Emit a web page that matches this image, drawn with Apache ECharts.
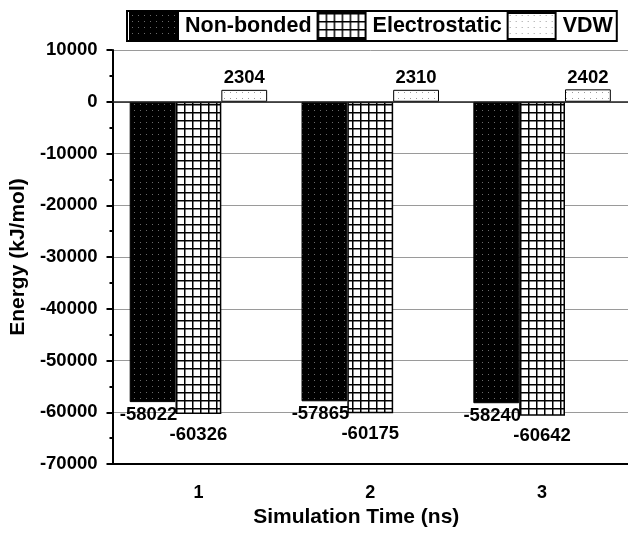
<!DOCTYPE html>
<html>
<head>
<meta charset="utf-8">
<script src="https://cdn.jsdelivr.net/npm/echarts@6/dist/echarts.min.js"></script>
<style>
html,body{margin:0;padding:0;background:#fff;}
#chart{width:628px;height:533px;}
</style>
</head>
<body>
<div id="chart"></div>
<script>
var categories = ['1', '2', '3'];
var nonBonded = [-58022, -57865, -58240];
var electrostatic = [-60326, -60175, -60642];
var vdw = [2304, 2310, 2402];
var seriesNames = ['Non-bonded', 'Electrostatic', 'VDW'];
var yTicks = { min: -70000, max: 10000, interval: 10000 };

var FONT = '"Liberation Sans", Arial, sans-serif';

function makePattern(kind) {
  var c = document.createElement('canvas');
  var ctx = c.getContext('2d');
  if (kind === 'dark') {
    c.width = 6; c.height = 6;
    ctx.fillStyle = '#000'; ctx.fillRect(0, 0, 6, 6);
    ctx.fillStyle = '#6a6a6a'; ctx.fillRect(2, 2, 1, 1);
  } else if (kind === 'grid') {
    c.width = 8; c.height = 8;
    ctx.fillStyle = '#fff'; ctx.fillRect(0, 0, 8, 8);
    ctx.fillStyle = '#000';
    ctx.fillRect(0, 0, 8, 1.5);
    ctx.fillRect(0, 0, 1.5, 8);
  } else {
    c.width = 6; c.height = 6;
    ctx.fillStyle = '#fff'; ctx.fillRect(0, 0, 6, 6);
    ctx.fillStyle = '#9a9a9a'; ctx.fillRect(2, 2, 1, 1);
  }
  return { image: c, repeat: 'repeat' };
}

var chart = echarts.init(document.getElementById('chart'), null, { renderer: 'canvas' });

var labelBase = { show: true, fontFamily: FONT, fontWeight: 'bold', fontSize: 18.5, color: '#000' };

var option = {
  animation: false,
  backgroundColor: '#fff',
  legend: {
    left: 127, top: 11,
    padding: [1, 4, 1, 2],
    borderColor: '#000', borderWidth: 2,
    itemWidth: 48, itemHeight: 26, itemGap: 5,
    icon: 'rect',
    textStyle: { fontFamily: FONT, fontWeight: 'bold', fontSize: 21.5, color: '#000', padding: [0, 0, 0, 2] },
    data: seriesNames
  },
  grid: { left: 112, top: 50, width: 524, height: 421, containLabel: false },
  xAxis: {
    type: 'category',
    data: categories,
    name: 'Simulation Time (ns)',
    nameLocation: 'middle',
    nameGap: 35,
    nameTextStyle: { fontFamily: FONT, fontWeight: 'bold', fontSize: 21, color: '#000', padding: [0, 28, 0, 0] },
    axisLine: { onZero: false, lineStyle: { color: '#000', width: 2 } },
    axisTick: { alignWithLabel: true, length: 6, lineStyle: { color: '#000', width: 2 } },
    axisLabel: { fontFamily: FONT, fontWeight: 'bold', fontSize: 18, color: '#000', margin: 20 },
    splitLine: { show: false }
  },
  yAxis: {
    type: 'value',
    min: yTicks.min, max: yTicks.max, interval: yTicks.interval,
    name: 'Energy (kJ/mol)',
    nameLocation: 'middle',
    nameGap: 76,
    nameTextStyle: { fontFamily: FONT, fontWeight: 'bold', fontSize: 21, color: '#000' },
    axisLine: { show: true, lineStyle: { color: '#000', width: 2 } },
    axisTick: { show: true, length: 6, lineStyle: { color: '#000', width: 2 } },
    minorTick: { show: true, splitNumber: 2, length: 3, lineStyle: { color: '#000', width: 2 } },
    axisLabel: { fontFamily: FONT, fontWeight: 'bold', fontSize: 18.5, color: '#000', margin: 15,
      formatter: function (v) { return String(v); } },
    splitLine: { show: true, lineStyle: { color: '#9a9a9a', width: 1 } }
  },
  series: [
    {
      name: seriesNames[0], type: 'bar', data: nonBonded,
      barGap: '0%', barCategoryGap: '20%',
      itemStyle: { color: makePattern('dark'), borderColor: '#000', borderWidth: 1 },
      label: Object.assign({}, labelBase, { position: 'bottom', distance: 3, offset: [-4, 0] }),
      markLine: {
        silent: true, symbol: 'none', label: { show: false },
        lineStyle: { color: '#222', width: 1.5, type: 'solid' },
        data: [{ yAxis: 0 }]
      }
    },
    {
      name: seriesNames[1], type: 'bar', data: electrostatic,
      barGap: '0%', barCategoryGap: '20%',
      itemStyle: { color: makePattern('grid'), borderColor: '#000', borderWidth: 1.5 },
      label: Object.assign({}, labelBase, { position: 'bottom', distance: 11 })
    },
    {
      name: seriesNames[2], type: 'bar', data: vdw,
      barGap: '0%', barCategoryGap: '20%',
      itemStyle: { color: makePattern('dots'), borderColor: '#000', borderWidth: 1 },
      label: Object.assign({}, labelBase, { position: 'top', distance: 2 })
    }
  ]
};
chart.setOption(option);
</script>
</body>
</html>
